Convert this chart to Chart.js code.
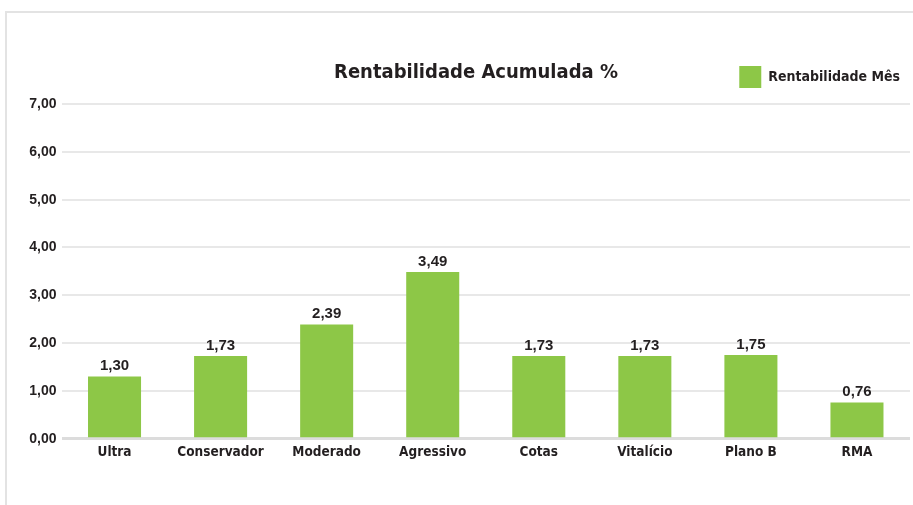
<!DOCTYPE html>
<html>
<head>
<meta charset="utf-8">
<script src="https://cdn.jsdelivr.net/npm/chart.js@4/dist/chart.umd.min.js"></script>
<style>
  body { margin: 0; background: #fff; }
  #frame { position: absolute; left: 5px; top: 11px; width: 960px; height: 560px;
           border-top: 2px solid #e3e3e3; border-left: 2px solid #e3e3e3; }
  #wrap { position: absolute; left: 0; top: 0; width: 913px; height: 505px; }
</style>
</head>
<body>
<div id="frame"></div>
<div id="wrap"><canvas id="myChart"></canvas></div>
<script>
const categories = ['Ultra', 'Conservador', 'Moderado', 'Agressivo', 'Cotas', 'Vitalício', 'Plano B', 'RMA']
const rentabilidade = [1.30, 1.73, 2.39, 3.49, 1.73, 1.73, 1.75, 0.76]
const seriesName = 'Rentabilidade Mês'
const chartTitle = 'Rentabilidade Acumulada %'
const yMin = 0
const yMax = 7
const yStep = 1

const narrow = '"Liberation Sans Narrow", "DejaVu Sans Condensed", sans-serif'
const plain = '"Liberation Sans", Arial, sans-serif'
const green = '#8dc747'

const fmt = v => v.toFixed(2).replace('.', ',')

// value on top of each bar + title on the legend row
const extras = {
    id: 'extras',
    afterDatasetsDraw(chart) {
        const ctx = chart.ctx
        ctx.save()
        ctx.fillStyle = '#231f20'
        ctx.font = 'bold 15px ' + plain
        ctx.textAlign = 'center'
        ctx.textBaseline = 'bottom'
        chart.getDatasetMeta(0).data.forEach((bar, i) => {
            ctx.fillText(fmt(chart.data.datasets[0].data[i]), bar.x, bar.y - 3)
        })
        ctx.font = 'bold 20px ' + narrow
        ctx.textBaseline = 'middle'
        ctx.fillText(chartTitle, 476, 73)
        ctx.restore()
    }
}

const config = {
    type: 'bar',
    data: {
        labels: categories,
        datasets: [{
            label: seriesName,
            data: rentabilidade,
            backgroundColor: green,
            borderWidth: 0,
            barPercentage: 0.5,
            categoryPercentage: 1
        }]
    },
    options: {
        responsive: true,
        maintainAspectRatio: false,
        animation: false,
        layout: { padding: { top: 56, right: 3, bottom: 38, left: 0 } },
        plugins: {
            title: { display: false },
            // empty subtitle used only as a small gap under the legend
            subtitle: { display: true, text: '', weight: 500, padding: 0, font: { size: 5, lineHeight: 1.2 } },
            tooltip: { enabled: false },
            legend: {
                position: 'top',
                align: 'end',
                labels: {
                    boxWidth: 22,
                    boxHeight: 22,
                    color: '#231f20',
                    font: { family: narrow, size: 14, weight: 'bold' }
                }
            }
        },
        scales: {
            x: {
                grid: { display: false, drawTicks: false },
                border: { display: false },
                ticks: { color: '#231f20', padding: 6, font: { family: narrow, size: 13.5, weight: 'bold' } }
            },
            y: {
                min: yMin,
                max: yMax,
                afterFit: s => { s.width = 61.5 },
                grid: {
                    drawTicks: false,
                    color: ctx => ctx.tick.value === 0 ? '#dcdcdc' : '#e8e8e8',
                    lineWidth: ctx => ctx.tick.value === 0 ? 3 : 2
                },
                border: { display: false },
                ticks: {
                    stepSize: yStep,
                    padding: 5,
                    color: '#231f20',
                    font: { family: plain, size: 14, weight: 'bold' },
                    callback: v => fmt(v)
                }
            }
        }
    },
    plugins: [extras]
}

const myChart = new Chart(document.getElementById('myChart'), config)
</script>
</body>
</html>
